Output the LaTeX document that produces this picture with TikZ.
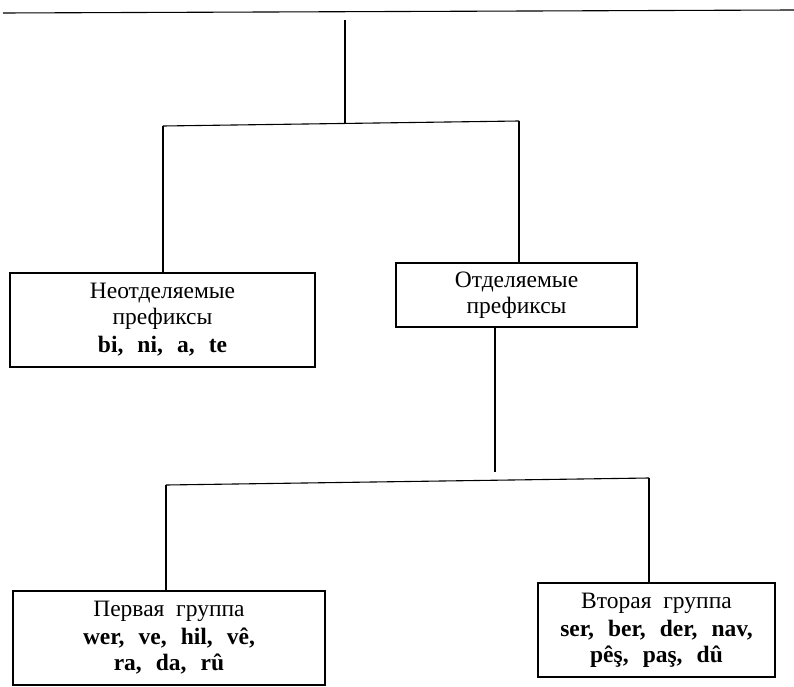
\documentclass[tikz,border=0pt]{standalone}
\usepackage{fontspec}
\setmainfont{Liberation Serif}
\newfontfamily\latfont[WordSpace=2.4]{Liberation Serif}

\begin{document}
\begin{tikzpicture}[x=1pt,y=-1pt]

        \useasboundingbox (0,0) rectangle (794,687);

        \begin{scope}[every node/.style={draw, line width=1.1pt, align=center, inner sep=0pt, font=\fontsize{23.5}{26}\selectfont}]
          \node[minimum width=305pt, minimum height=94pt] (1) at (162.5,320) {Неотделяемые\\префиксы\\[2pt]{\latfont\bfseries bi, ni, a, te}};
          \node[minimum width=241pt, minimum height=64pt] (2) at (516.5,295) {Отделяемые\\префиксы};
          \node[minimum width=312pt, minimum height=94pt] (3) at (169,638) {Первая\ \ группа\\[2pt]{\latfont\bfseries wer, ve, hil, vê,}\\{\latfont\bfseries ra, da, rû}};
          \node[minimum width=237pt, minimum height=94pt] (4) at (656.5,630) {Вторая\ \ группа\\[2pt]{\latfont\bfseries ser, ber, der, nav,}\\{\latfont\bfseries pêş, paş, dû}};
        \end{scope}

        \coordinate (t1) at (3,13);
        \coordinate (t2) at (794,10);
        \coordinate (r1) at (345,20);
        \coordinate (r2) at (345,123);
        \coordinate (a1) at (163,126);
        \coordinate (a2) at (519,121);
        \coordinate (j2) at (495,472);
        \coordinate (b1) at (166,485);
        \coordinate (b2) at (649,478);

        \begin{scope}[every edge/.style={draw, line width=1.1pt}]
          \path (t1) edge (t2);
          \path (r1) edge (r2);
          \path (a1) edge (a2);
          \path (a1) edge (a1 |- 1.north);
          \path (a2) edge (a2 |- 2.north);
          \path (j2 |- 2.south) edge (j2);
          \path (b1) edge (b2);
          \path (b1) edge (b1 |- 3.north);
          \path (b2) edge (b2 |- 4.north);
        \end{scope}

      \end{tikzpicture}
\end{document}
